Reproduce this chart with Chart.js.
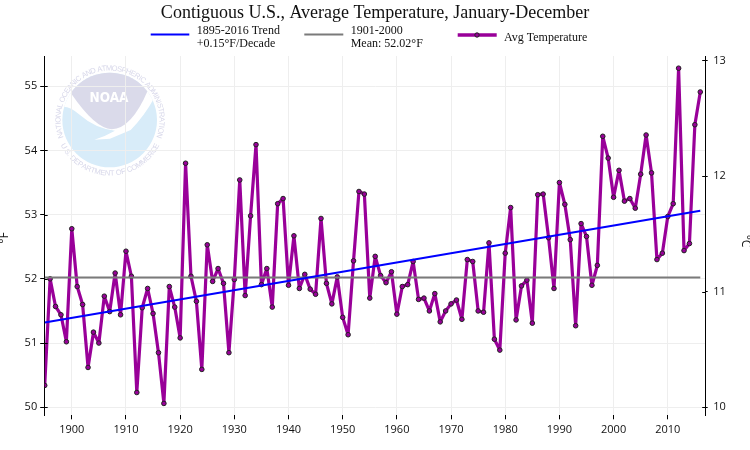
<!DOCTYPE html>
<html><head><meta charset="utf-8">
<style>html,body{margin:0;padding:0;background:#fff}canvas{display:block}</style>
<script src="https://cdn.jsdelivr.net/npm/chart.js@4"></script>
</head><body>
<canvas id="c" width="750" height="450"></canvas>
<script>
const titleText = "Contiguous U.S., Average Temperature, January-December";
const years = [];
for (let y = 1895; y <= 2016; y++) years.push(y);
const avgTemperature = [
50.34,52.00,51.57,51.44,51.02,52.78,51.88,51.60,50.62,51.17,
51.00,51.73,51.49,52.09,51.44,52.43,52.04,50.23,51.55,51.85,
51.46,50.85,50.06,51.88,51.56,51.08,53.80,52.04,51.65,50.59,
52.53,51.96,52.16,51.93,50.85,51.99,53.54,51.74,52.98,54.09,
51.91,52.16,51.56,53.17,53.25,51.90,52.67,51.85,52.07,51.84,
51.76,52.94,51.93,51.61,52.03,51.40,51.13,52.28,53.36,53.32,
51.70,52.35,52.05,51.94,52.11,51.45,51.88,51.91,52.27,51.68,
51.70,51.50,51.77,51.33,51.50,51.61,51.67,51.37,52.30,52.27,
51.50,51.48,52.56,51.06,50.89,52.40,53.11,51.36,51.89,51.98,
51.31,53.31,53.32,52.64,51.85,53.50,53.16,52.61,51.27,52.86,
52.66,51.90,52.21,54.22,53.88,53.27,53.69,53.21,53.25,53.10,
53.63,54.24,53.65,52.30,52.40,52.97,53.17,55.28,52.44,52.55,
54.40,54.91];
const lineYears = [1895, 2016];
const trendValues = [51.32, 53.06];
const meanValues = [52.02, 52.02];
const legendTrend = ["1895-2016 Trend", "+0.15°F/Decade"];
const legendMean = ["1901-2000", "Mean: 52.02°F"];
const legendAvg = "Avg Temperature";
const unitF = "°F", unitC = "°C";
const xMin = 1895, xMax = 2017, fMin = 49.875, fMax = 55.47;
const cMin = (fMin - 32) / 1.8, cMax = (fMax - 32) / 1.8;

const BLUE = "#0000ff", GREY = "#7a7a7a", PURPLE = "#990099", DOT = "#222222";
const SERIF = "'Liberation Serif', serif", SANS = "'Open Sans', sans-serif";

function arcText(ctx, str, cx, cy, r, centerAngle, span, inward) {
  const widths = [...str].map(ch => ctx.measureText(ch).width);
  const total = widths.reduce((a, b) => a + b, 0);
  const scale = span * r / total;
  let pos = 0;
  [...str].forEach((ch, i) => {
    const mid = (pos + widths[i] / 2) * scale / r - span / 2;
    pos += widths[i];
    const a = inward ? centerAngle - mid : centerAngle + mid;
    ctx.save();
    ctx.translate(cx + r * Math.sin(a), cy - r * Math.cos(a));
    ctx.rotate(inward ? a + Math.PI : a);
    ctx.fillText(ch, 0, 0);
    ctx.restore();
  });
}

const logoPlugin = {
  id: "logo",
  beforeDraw(chart) {
    const ctx = chart.ctx;
    ctx.save();
    ctx.fillStyle = "#fff";
    ctx.fillRect(0, 0, chart.width, chart.height);
    ctx.scale(1 / 3, 1 / 3);
    ctx.save();
    ctx.beginPath(); ctx.arc(329, 360, 142, 0, 2 * Math.PI); ctx.clip();
    ctx.fillStyle = "#d8ecf9"; ctx.fillRect(150, 200, 360, 320);
    ctx.fillStyle = "#ffffff";
    ctx.beginPath();
    ctx.moveTo(170, 312); ctx.lineTo(215, 270); ctx.lineTo(330, 250); ctx.lineTo(445, 262); ctx.lineTo(464, 292);
    ctx.quadraticCurveTo(432, 350, 392, 390);
    ctx.lineTo(330, 416); ctx.lineTo(283, 419);
    ctx.quadraticCurveTo(318, 408, 345, 392);
    ctx.quadraticCurveTo(285, 385, 240, 345);
    ctx.quadraticCurveTo(212, 320, 190, 320);
    ctx.closePath(); ctx.fill();
    ctx.fillStyle = "#dadaea";
    ctx.beginPath();
    ctx.moveTo(215, 283);
    ctx.quadraticCurveTo(285, 385, 335, 388);
    ctx.quadraticCurveTo(395, 385, 443, 272);
    ctx.lineTo(445, 200); ctx.lineTo(205, 200);
    ctx.closePath(); ctx.fill();
    ctx.restore();
    ctx.restore();

    ctx.save();
    ctx.fillStyle = "#ffffff";
    ctx.font = "bold 14px 'DejaVu Sans', sans-serif";
    ctx.textAlign = "center"; ctx.textBaseline = "middle";
    ctx.fillText("NOAA", 109, 98.5, 39);
    ctx.fillStyle = "#d8d8ea";
    ctx.font = "7.5px 'Liberation Sans', sans-serif";
    ctx.textBaseline = "alphabetic";
    arcText(ctx, "NATIONAL OCEANIC AND ATMOSPHERIC ADMINISTRATION", 110, 120, 49.5, 0, 3.85, false);
    arcText(ctx, "U.S. DEPARTMENT OF COMMERCE", 110, 120, 55.5, Math.PI, 2.2, true);
    ctx.restore();
  },
  afterDraw(chart) {
    const ctx = chart.ctx;
    ctx.save();
    // inner parts of the axis ticks
    ctx.strokeStyle = "#000"; ctx.lineWidth = 1;
    const yL = chart.scales.y, yR = chart.scales.yC;
    yL.ticks.forEach(t => {
      const p = Math.round(yL.getPixelForValue(t.value)) + 0.5;
      ctx.beginPath(); ctx.moveTo(yL.right, p); ctx.lineTo(yL.right + 3, p); ctx.stroke();
    });
    yR.ticks.forEach(t => {
      const p = Math.round(yR.getPixelForValue(t.value)) + 0.5;
      ctx.beginPath(); ctx.moveTo(yR.left, p); ctx.lineTo(yR.left - 3.5, p); ctx.stroke();
    });
    // axis units, partly cut by the page edge as in the reference
    ctx.fillStyle = "#111";
    ctx.font = "12px " + SANS;
    ctx.textAlign = "center"; ctx.textBaseline = "alphabetic";
    ctx.save(); ctx.translate(8, 238); ctx.rotate(-Math.PI / 2); ctx.fillText(unitF, 0, 0); ctx.restore();
    ctx.save(); ctx.translate(742, 241); ctx.rotate(Math.PI / 2); ctx.fillText(unitC, 0, 0); ctx.restore();
    // legend
    const swatch = (x0, x1, y, color, w) => {
      ctx.strokeStyle = color; ctx.lineWidth = w;
      ctx.beginPath(); ctx.moveTo(x0, y); ctx.lineTo(x1, y); ctx.stroke();
    };
    swatch(150.7, 189.3, 34.5, BLUE, 2);
    swatch(304.3, 343.3, 34.5, GREY, 2);
    swatch(457.7, 496.7, 35, PURPLE, 3.3);
    ctx.beginPath(); ctx.arc(477, 35, 2.2, 0, 2 * Math.PI);
    ctx.fillStyle = PURPLE; ctx.fill();
    ctx.strokeStyle = DOT; ctx.lineWidth = 1; ctx.stroke();
    ctx.fillStyle = "#111";
    ctx.font = "12px " + SERIF;
    ctx.textAlign = "left"; ctx.textBaseline = "middle";
    ctx.fillText(legendTrend[0], 196.7, 31);
    ctx.fillText(legendTrend[1], 196.7, 44);
    ctx.fillText(legendMean[0], 350.7, 31);
    ctx.fillText(legendMean[1], 350.7, 44);
    ctx.fillText(legendAvg, 504, 38);
    ctx.restore();
  }
};

new Chart(document.getElementById("c"), {
  type: "line",
  plugins: [logoPlugin],
  data: {
    datasets: [
      { label: "1895-2016 Trend", data: lineYears.map((x, i) => ({ x, y: trendValues[i] })),
        borderColor: BLUE, borderWidth: 2, pointRadius: 0, tension: 0 },
      { label: "1901-2000 Mean", data: lineYears.map((x, i) => ({ x, y: meanValues[i] })),
        borderColor: GREY, borderWidth: 2, pointRadius: 0, tension: 0 },
      { label: "Avg Temperature", data: years.map((x, i) => ({ x, y: avgTemperature[i] })),
        borderColor: PURPLE, borderWidth: 3.2, borderJoinStyle: "round", tension: 0,
        pointRadius: 2.3, pointBackgroundColor: PURPLE, pointBorderColor: DOT, pointBorderWidth: 1 }
    ]
  },
  options: {
    responsive: false,
    animation: false,
    layout: { padding: 0 },
    plugins: {
      legend: { display: false },
      tooltip: { enabled: false },
      title: { display: true, text: titleText, color: "#111",
        font: { family: SERIF, size: 18, weight: "normal" },
        padding: { top: 2.5, bottom: 31.9 } }
    },
    scales: {
      x: { type: "linear", min: xMin, max: xMax,
        afterFit(s) { s.height = 34.7; },
        border: { display: false },
        grid: { color: "#eeeeee", tickColor: "#000", tickLength: 4, lineWidth: 1 },
        ticks: { stepSize: 10, includeBounds: false, maxRotation: 0, padding: 4, color: "#111",
          font: { family: SANS, size: 11 }, callback: v => String(v) } },
      y: { position: "left", min: fMin, max: fMax,
        afterFit(s) { s.width = 44.7; },
        border: { display: true, color: "#000", width: 1 },
        grid: { color: "#eeeeee", tickColor: "#000", tickLength: 4.5, lineWidth: 1 },
        ticks: { stepSize: 1, includeBounds: false, padding: 3, color: "#111",
          font: { family: SANS, size: 11 } } },
      yC: { position: "right", min: cMin, max: cMax,
        afterFit(s) { s.width = 44.3; },
        border: { display: true, color: "#000", width: 1 },
        grid: { drawOnChartArea: false, tickColor: "#000", tickLength: 2 },
        ticks: { stepSize: 1, includeBounds: false, padding: 5.5, color: "#111",
          font: { family: SANS, size: 11 } } }
    }
  }
});
</script>
</body></html>
